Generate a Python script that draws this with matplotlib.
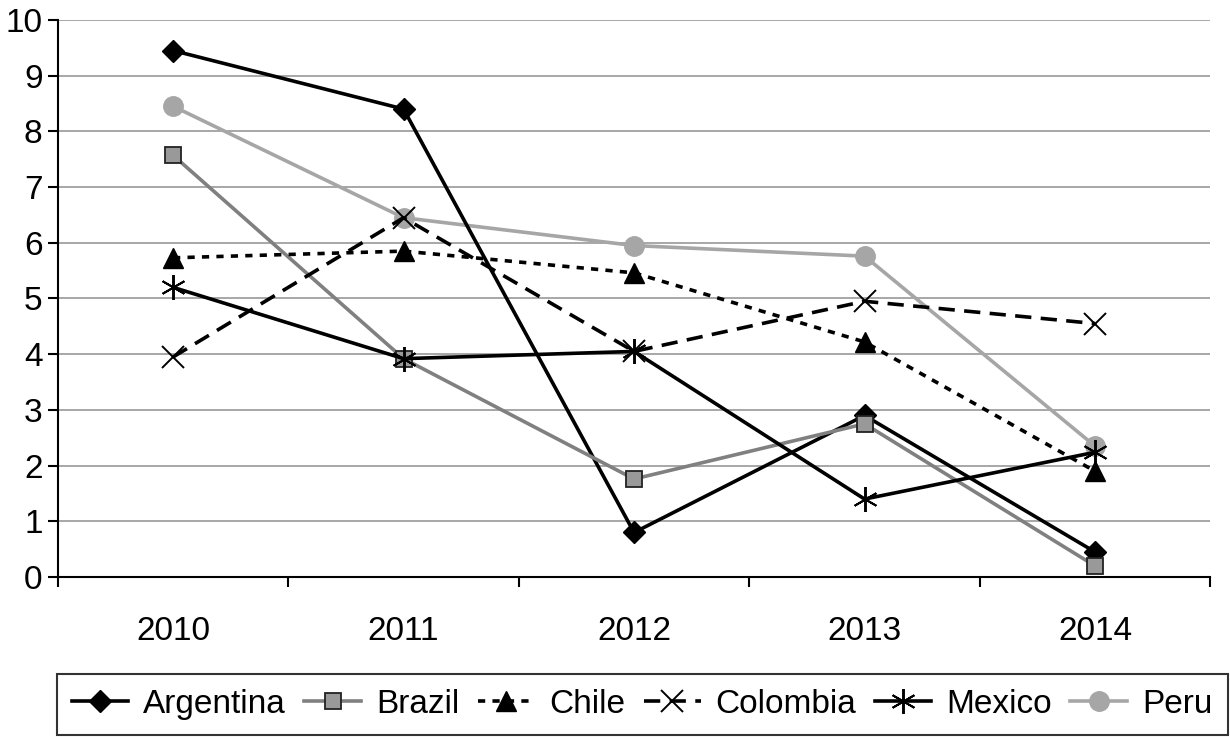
import matplotlib
matplotlib.use("Agg")
import matplotlib.pyplot as plt

plt.rcParams['font.family'] = ['Liberation Sans', 'DejaVu Sans']

years = ['2010', '2011', '2012', '2013', '2014']
argentina = [9.45, 8.4, 0.8, 2.9, 0.45]
brazil = [7.57, 3.92, 1.76, 2.75, 0.2]
chile = [5.73, 5.85, 5.46, 4.22, 1.9]
colombia = [3.95, 6.45, 4.05, 4.95, 4.55]
mexico = [5.2, 3.92, 4.05, 1.4, 2.24]
peru = [8.45, 6.45, 5.95, 5.76, 2.35]

x = list(range(len(years)))

fig = plt.figure(figsize=(12.3, 7.37), dpi=100)
ax = fig.add_axes([0.047, 0.217, 0.937, 0.756])

lw = 2.6
ax.plot(x, peru, color='#a6a6a6', lw=lw, marker='o', ms=14,
        mfc='#a6a6a6', mec='#a6a6a6', label='Peru', zorder=2)
ax.plot(x, argentina, color='black', lw=lw, marker='D', ms=11,
        mfc='black', mec='black', label='Argentina', zorder=3)
ax.plot(x, brazil, color='#808080', lw=lw, marker='s', ms=12,
        mfc='#999999', mec='#222222', mew=1.3, label='Brazil', zorder=3)
ax.plot(x, chile, color='black', lw=lw, ls=(0, (2.0, 2.0)), marker='^', ms=14,
        mfc='black', mec='black', label='Chile', zorder=3)
ax.plot(x, colombia, color='black', lw=lw, ls=(0, (4.5, 2.6)), marker='x', ms=16,
        mew=1.4, mec='black', label='Colombia', zorder=4)
ax.plot(x, mexico, color='black', lw=lw, marker=(6, 2, 0), ms=18,
        mew=1.4, mec='black', label='Mexico', zorder=4)

ax.set_xlim(-0.5, 4.5)
ax.set_ylim(0, 10)
ax.set_yticks(range(0, 11))
ax.yaxis.grid(True, color='#a0a0a0', lw=1.3)
ax.set_axisbelow(True)
ax.set_xticks(x)
ax.set_xticklabels(years)
ax.set_xticks([i - 0.5 for i in range(len(years) + 1)], minor=True)
ax.tick_params(axis='x', which='major', length=0, pad=28, labelsize=24)
ax.tick_params(axis='x', which='minor', length=7, width=1.5, direction='out')
ax.tick_params(axis='y', length=7, width=1.5, labelsize=24, pad=4)
for s in ['top', 'right']:
    ax.spines[s].set_visible(False)
for s in ['left', 'bottom']:
    ax.spines[s].set_linewidth(1.5)

handles, labels = ax.get_legend_handles_labels()
order = ['Argentina', 'Brazil', 'Chile', 'Colombia', 'Mexico', 'Peru']
hl = dict(zip(labels, handles))
leg = fig.legend([hl[k] for k in order], order, ncol=6,
                 loc='lower left', bbox_to_anchor=(0.046, 0.003, 0.952, 0.08),
                 mode='expand', fontsize=24, frameon=True, fancybox=False,
                 edgecolor='black', handlelength=1.7, handletextpad=0.45,
                 columnspacing=0.75, borderaxespad=0, borderpad=0.45)
leg.get_frame().set_linewidth(1.5)

fig.savefig('out.png', dpi=100)
